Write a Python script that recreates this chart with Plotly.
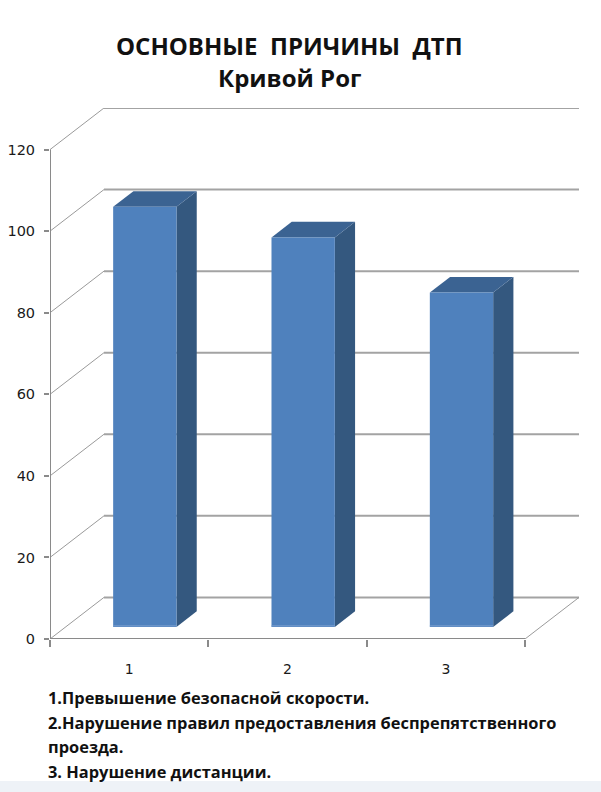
import plotly.graph_objects as go

# ---------------- data ----------------
categories = ["1", "2", "3"]
values = [103, 95.5, 82]
y_ticks = [0, 20, 40, 60, 80, 100, 120]
title_lines = ["ОСНОВНЫЕ\u00a0\u00a0ПРИЧИНЫ\u00a0\u00a0ДТП", "Кривой Рог"]
legend_lines = [
    "1.Превышение безопасной скорости.",
    "2.Нарушение правил предоставления беспрепятственного",
    "проезда.",
    "3. Нарушение дистанции.",
]

# ---------------- 3D projection parameters (data units) ----------------
DX = 0.341   # depth shift along x (category units)
DY = 10.2    # depth shift along y (value units)
W = 0.40     # bar width (category units)
D0 = 0.29    # depth of bar front face (fraction of floor depth)
DD = 0.375   # bar depth (fraction of floor depth)
N = len(categories)
YMAX = max(y_ticks)

GRID = "#a3a3a3"
AXIS = "#8a8a8a"
FRONT = "#4f81bd"
SIDE = "#34587f"
TOP = "#3b6392"

W_PX, H_PX = 601, 792
# plot area in page pixels: x 50..579, y 108..639
ML, MR, MT, MB = 50, W_PX - 579, 108, H_PX - 639
PW = W_PX - ML - MR
PH = H_PX - MT - MB


def px_x(p):
    return (p - ML) / PW


def px_y(p):
    return (H_PX - MB - p) / PH


fig = go.Figure()

# back wall: diagonals on the side wall + back gridlines
dx_, dy_ = [], []
hx_, hy_ = [], []
for v in y_ticks:
    dx_ += [0, DX, None]
    dy_ += [v, v + DY, None]
    hx_ += [DX, N + DX, None]
    hy_ += [v + DY, v + DY, None]
fig.add_trace(go.Scatter(x=dx_, y=dy_, mode="lines",
                         line=dict(color="#9a9a9a", width=1),
                         hoverinfo="skip", showlegend=False))
fig.add_trace(go.Scatter(x=hx_, y=hy_, mode="lines",
                         line=dict(color=GRID, width=2),
                         hoverinfo="skip", showlegend=False))

# floor right diagonal
fig.add_trace(go.Scatter(x=[N, N + DX], y=[0, DY], mode="lines",
                         line=dict(color="#9a9a9a", width=1),
                         hoverinfo="skip", showlegend=False))

# bars (front face, side, top) built from the values
for i, v in enumerate(values):
    cx = i + 0.5
    x0 = cx - W / 2 + D0 * DX
    x1 = x0 + W
    y0 = D0 * DY
    y1 = y0 + v
    ox, oy = DD * DX, DD * DY
    fig.add_trace(go.Scatter(
        x=[x1, x1 + ox, x1 + ox, x1, x1], y=[y0, y0 + oy, y1 + oy, y1, y0],
        fill="toself", fillcolor=SIDE, mode="lines", line=dict(width=0, color=SIDE),
        hoverinfo="skip", showlegend=False))
    fig.add_trace(go.Scatter(
        x=[x0, x1, x1 + ox, x0 + ox, x0], y=[y1, y1, y1 + oy, y1 + oy, y1],
        fill="toself", fillcolor=TOP, mode="lines", line=dict(width=0, color=TOP),
        hoverinfo="skip", showlegend=False))
    fig.add_trace(go.Scatter(
        x=[x0, x1, x1, x0, x0], y=[y0, y0, y1, y1, y0],
        fill="toself", fillcolor=FRONT, mode="lines", line=dict(width=0, color=FRONT),
        name=categories[i], hovertemplate="%{text}<extra></extra>",
        text=[str(v)] * 5, showlegend=False))
    fig.add_trace(go.Scatter(
        x=[x0, x1], y=[y0 + 0.25, y0 + 0.25], mode="lines",
        line=dict(color="#7fa3d0", width=1),
        hoverinfo="skip", showlegend=False))

# front axes
fig.add_trace(go.Scatter(x=[0, 0, N], y=[YMAX, 0, 0], mode="lines",
                         line=dict(color=AXIS, width=2),
                         hoverinfo="skip", showlegend=False))

# title and caption
annotations = []
title_y = [45, 77]
for t, py in zip(title_lines, title_y):
    annotations.append(dict(
        text="<b>" + t + "</b>", x=px_x(289), y=px_y(py), xref="paper", yref="paper",
        xanchor="center", yanchor="middle", showarrow=False,
        font=dict(family="Open Sans", size=24, color="#111111")))
leg_y = [697, 722, 746, 771]
for t, py in zip(legend_lines, leg_y):
    annotations.append(dict(
        text="<b>" + t + "</b>", x=px_x(46), y=px_y(py), xref="paper", yref="paper",
        xanchor="left", yanchor="middle", showarrow=False,
        font=dict(family="Open Sans", size=16.4, color="#111111")))

fig.update_layout(
    width=W_PX, height=H_PX,
    margin=dict(l=ML, r=MR, t=MT, b=MB, pad=0),
    paper_bgcolor="white", plot_bgcolor="white",
    annotations=annotations,
    shapes=[dict(type="rect", xref="paper", yref="paper",
                 x0=px_x(0), x1=px_x(W_PX), y0=px_y(H_PX), y1=px_y(781),
                 fillcolor="#eef2f7", line=dict(width=0), layer="below")],
    xaxis=dict(range=[0, N + DX], showgrid=False, zeroline=False, showline=False,
               tickmode="array", tickvals=[i + 0.5 for i in range(N)], ticktext=categories,
               ticks="", ticklabelstandoff=20,
               tickfont=dict(family="DejaVu Sans", size=14, color="#1a1a1a"),
               minor=dict(tickmode="array", tickvals=list(range(N + 1)), ticks="outside",
                          ticklen=7, tickwidth=2, tickcolor=AXIS, showgrid=False),
               fixedrange=True, automargin=False),
    yaxis=dict(range=[0, YMAX + DY], showgrid=False, zeroline=False, showline=False,
               tickmode="array", tickvals=y_ticks, ticks="outside", ticklen=5,
               tickwidth=2, tickcolor=AXIS, ticklabelstandoff=6,
               tickfont=dict(family="DejaVu Sans", size=14.5, color="#1a1a1a"),
               fixedrange=True, automargin=False),
)

fig.write_html(
    "out.html",
    config={"displayModeBar": False},
    post_script="document.body.style.margin='0';document.body.style.overflow='hidden';",
)
